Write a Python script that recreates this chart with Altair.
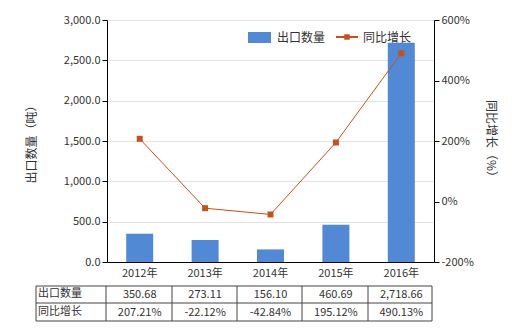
import altair as alt
import pandas as pd

years = ["2012年", "2013年", "2014年", "2015年", "2016年"]
qty = [350.68, 273.11, 156.10, 460.69, 2718.66]
growth = [207.21, -22.12, -42.84, 195.12, 490.13]
qty_labels = ["350.68", "273.11", "156.10", "460.69", "2,718.66"]
growth_labels = ["207.21%", "-22.12%", "-42.84%", "195.12%", "490.13%"]

FONT = "Noto Sans CJK SC"
BAR = "#5289D5"
LINE = "#C8501A"
TXT = "#333333"

df = pd.DataFrame({"year": years, "qty": qty, "growth": growth,
                   "ql": qty_labels, "gl": growth_labels})
one = pd.DataFrame({"a": [0]})

xenc = alt.X("year:N", sort=years,
             scale=alt.Scale(paddingInner=0, paddingOuter=0),
             axis=alt.Axis(title=None, labelAngle=0, ticks=False, domainColor="#000000",
                           labelColor=TXT, labelFontSize=11, labelFont=FONT, labelPadding=5))

bars = alt.Chart(df).mark_bar(color=BAR, size=27).encode(
    x=xenc,
    y=alt.Y("qty:Q", scale=alt.Scale(domain=[0, 3000]),
            axis=alt.Axis(title="出口数量（吨）", values=[0, 500, 1000, 1500, 2000, 2500, 3000],
                          format=",.1f", domainColor="#000000", tickColor="#000000", tickSize=5,
                          gridColor="#E3E3E3", labelColor=TXT, labelFontSize=11, labelFont=FONT,
                          titleFont=FONT, titleFontSize=12, titleFontWeight="normal", titleColor=TXT,
                          titleX=-76, titleY=121, titleAngle=-90, titleAlign="center",
                          titleBaseline="middle"))
)

line = alt.Chart(df).mark_line(color=LINE, strokeWidth=1,
                               point=alt.OverlayMarkDef(shape="square", size=36, color=LINE, filled=True)).encode(
    x=alt.X("year:N", sort=years),
    y=alt.Y("growth:Q", scale=alt.Scale(domain=[-200, 600]),
            axis=alt.Axis(title="同比增长（%）", orient="right", values=[-200, 0, 200, 400, 600],
                          labelExpr="datum.value + '%'", grid=False,
                          domainColor="#000000", tickColor="#000000", tickSize=5,
                          labelColor=TXT, labelFontSize=11, labelFont=FONT,
                          titleFont=FONT, titleFontSize=12, titleFontWeight="normal", titleColor=TXT,
                          titleX=56, titleY=121, titleAngle=90, titleAlign="center",
                          titleBaseline="middle"))
)

# Table below the chart
row1 = alt.Chart(df).mark_text(fontSize=11, font=FONT, color=TXT).encode(
    x=alt.X("year:N", sort=years), y=alt.value(275), text="ql:N")
row2 = alt.Chart(df).mark_text(fontSize=11, font=FONT, color=TXT).encode(
    x=alt.X("year:N", sort=years), y=alt.value(293), text="gl:N")
hdr = pd.DataFrame({"t": ["出口数量", "同比增长"], "yy": [0, 1]})
hdr1 = alt.Chart(one).mark_text(fontSize=11, font=FONT, color=TXT, align="left").encode(
    x=alt.value(-69), y=alt.value(274), text=alt.value("出口数量"))
hdr2 = alt.Chart(one).mark_text(fontSize=11, font=FONT, color=TXT, align="left").encode(
    x=alt.value(-69), y=alt.value(292), text=alt.value("同比增长"))

rules = []
for yy in [266, 283, 301]:
    rules.append(alt.Chart(one).mark_rule(color="#444444", strokeWidth=1).encode(
        x=alt.value(-71), x2=alt.value(325), y=alt.value(yy)))
for xx in [-71, -1, 65, 130, 195, 261, 325]:
    rules.append(alt.Chart(one).mark_rule(color="#444444", strokeWidth=1).encode(
        x=alt.value(xx), y=alt.value(266), y2=alt.value(301)))

# Legend
leg = [
    alt.Chart(one).mark_rect(color=BAR).encode(
        x=alt.value(141), x2=alt.value(164), y=alt.value(12), y2=alt.value(23)),
    alt.Chart(one).mark_text(fontSize=12, font=FONT, color=TXT, align="left").encode(
        x=alt.value(170), y=alt.value(17.5), text=alt.value("出口数量")),
    alt.Chart(one).mark_rule(color=LINE, strokeWidth=2).encode(
        x=alt.value(229), x2=alt.value(251), y=alt.value(17)),
    alt.Chart(one).mark_square(color=LINE, size=30, opacity=1).encode(
        x=alt.value(240), y=alt.value(17)),
    alt.Chart(one).mark_text(fontSize=12, font=FONT, color=TXT, align="left").encode(
        x=alt.value(256), y=alt.value(17.5), text=alt.value("同比增长")),
]

main = alt.layer(bars, line).resolve_scale(y="independent")
chart = alt.layer(main, row1, row2, hdr1, hdr2, *rules, *leg).properties(
    width=327, height=242,
    autosize=alt.AutoSizeParams(type="none"),
    padding={"left": 107, "top": 20, "right": 86, "bottom": 68},
).configure_view(stroke=None).configure(font=FONT)

chart.save("out.html", embed_options={"renderer": "svg", "actions": False})
